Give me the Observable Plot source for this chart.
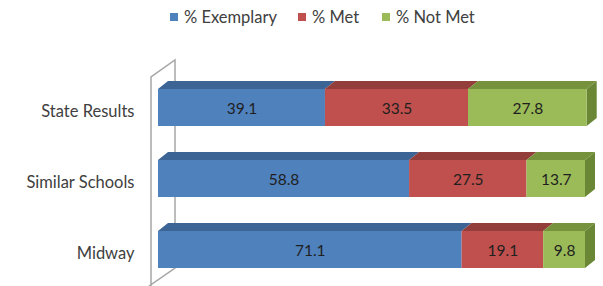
<!DOCTYPE html>
<html><head><meta charset="utf-8">
<script src="https://cdn.jsdelivr.net/npm/d3@7"></script>
<script src="https://cdn.jsdelivr.net/npm/@observablehq/plot@0.6"></script>
<style>
body{margin:0;background:#fff;font-family:Lato,sans-serif}
#wrap{position:relative;width:603px;height:286px;overflow:hidden}
#legend{position:absolute;top:7px;left:0;width:603px;height:20px;font-size:16.5px;color:#404040}
.item{position:absolute;top:0;display:flex;align-items:center;height:20px}
.sw{width:8px;height:8px;margin-right:6px}
</style></head><body>
<div id="wrap"><div id="chart"></div><div id="legend"></div></div>
<script>
const categories = ["State Results", "Similar Schools", "Midway"];
const seriesNames = ["% Exemplary", "% Met", "% Not Met"];
const exemplary = [39.1, 58.8, 71.1];
const met = [33.5, 27.5, 19.1];
const notMet = [27.8, 13.7, 9.8];
const colors = ["#4F81BD", "#C0504D", "#9BBB59"];
const topColors = ["#3C6595", "#943E3C", "#76923C"];
const sideColor = "#6A8735";
const legendX = [170, 298, 382];

const seriesValues = [exemplary, met, notMet];
const rows = [];
categories.forEach((cat, i) => {
  let acc = 0;
  seriesValues.forEach((vals, j) => {
    rows.push({cat, series: seriesNames[j], j, value: vals[i], x1: acc, x2: acc + vals[i]});
    acc += vals[i];
  });
});

const DX = 10, DY = 8;

function wall(index, scales, values, dimensions) {
  const x0 = scales.x(0);
  const yr = scales.y.range();
  const g = d3.create("svg:g").attr("fill", "none").attr("stroke", "#A6A6A6").attr("stroke-width", 1.5);
  const lx = x0 - 7, rx = x0 + 17;
  const topR = yr[0] - 12, topL = yr[0] + 5;
  const botR = yr[1] - 17, botL = yr[1];
  g.append("path").attr("d", `M${lx},${dimensions.height + 5}L${lx},${topL}L${rx},${topR}L${rx},${botR}L${lx - 2},${botR + 18}`);
  return g.node();
}

function depth(index, scales) {
  const bw = scales.y.bandwidth ? scales.y.bandwidth() : 37;
  const g = d3.create("svg:g");
  rows.forEach(d => {
    const xa = scales.x(d.x1), xb = scales.x(d.x2);
    const yt = scales.y(d.cat), yb = yt + bw;
    g.append("path")
      .attr("fill", topColors[d.j])
      .attr("d", `M${xa},${yt}L${xb},${yt}L${xb + DX},${yt - DY}L${xa + DX},${yt - DY}Z`);
    if (d.j === seriesNames.length - 1) {
      g.append("path")
        .attr("fill", sideColor)
        .attr("d", `M${xb},${yt}L${xb + DX},${yt - DY}L${xb + DX},${yb - DY}L${xb},${yb}Z`);
    }
  });
  return g.node();
}

const chart = Plot.plot({
  width: 603,
  height: 286,
  marginLeft: 158,
  marginRight: 18,
  marginTop: 72,
  marginBottom: 1,
  x: {domain: [0, 100], axis: null},
  y: {domain: categories, paddingInner: 0.479, paddingOuter: 0.2395, axis: null},
  color: {domain: seriesNames, range: colors},
  style: {fontFamily: "Lato, sans-serif", background: "#fff", overflow: "visible"},
  marks: [
    wall,
    depth,
    Plot.barX(rows, {x1: "x1", x2: "x2", y: "cat", fill: "series"}),
    Plot.text(rows, {x: d => (d.x1 + d.x2) / 2, y: "cat", text: d => d.value.toFixed(1), fill: "#1F1F1F", fontSize: 15.5, dy: 1}),
    Plot.text(categories, {x: 0, y: d => d, text: d => d, textAnchor: "end", dx: -24, dy: 4, fontSize: 16.5, fill: "#404040"})
  ]
});
document.getElementById("chart").appendChild(chart);

const legend = document.getElementById("legend");
seriesNames.forEach((name, j) => {
  const item = document.createElement("div");
  item.className = "item";
  item.style.left = legendX[j] + "px";
  item.innerHTML = `<div class="sw" style="background:${colors[j]}"></div><span>${name}</span>`;
  legend.appendChild(item);
});
</script>
</body></html>
